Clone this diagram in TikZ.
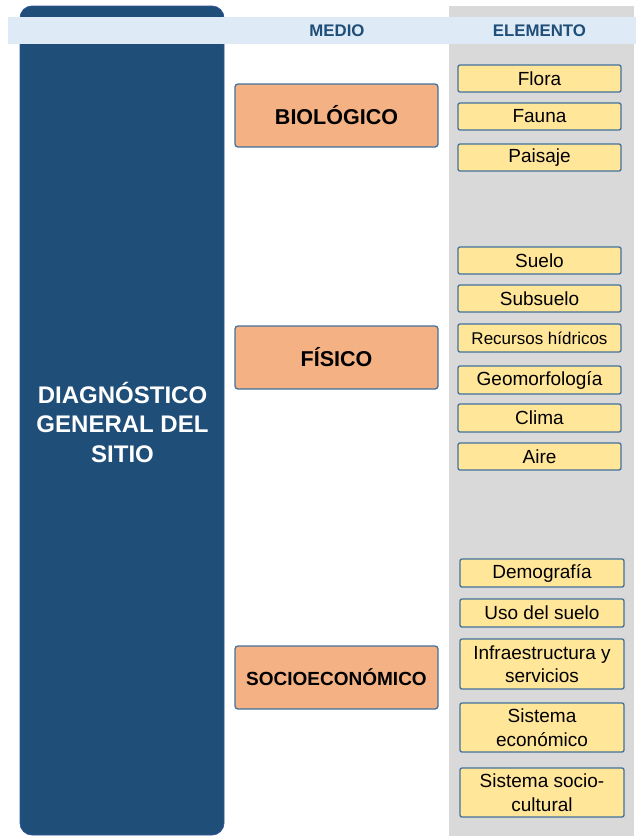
\documentclass[tikz,border=0pt]{standalone}
\usepackage{fontspec}
\setmainfont{Liberation Sans}
\definecolor{navy}{HTML}{1F4E79}
\definecolor{navyedge}{HTML}{2F5597}
\definecolor{bandblue}{HTML}{DEEBF7}
\definecolor{colgray}{HTML}{D9D9D9}
\definecolor{medfill}{HTML}{F4B183}
\definecolor{elemfill}{HTML}{FFE699}
\definecolor{boxedge}{HTML}{41719C}
\tikzset{
  medbox/.style={draw=boxedge, line width=1.3pt, fill=medfill, rounded corners=3pt,
    minimum width=203pt, minimum height=63pt, inner sep=0pt,
    font=\fontsize{21.5}{25}\selectfont\bfseries},
  elembox/.style={draw=boxedge, line width=1.3pt, fill=elemfill, rounded corners=2pt,
    minimum width=163pt, minimum height=27pt, inner sep=0pt, align=center,
    font=\fontsize{19}{23.5}\selectfont},
  headtext/.style={text=navy, font=\fontsize{16.8}{20}\selectfont\bfseries, inner sep=0pt}
}
\begin{document}
\begin{tikzpicture}[x=1pt, y=-1pt]
  \useasboundingbox (0,0) rectangle (636,836);
  % background panels
  \draw[fill=navy, draw=navyedge, line width=0.8pt, rounded corners=12pt] (20,6) rectangle (224,835);
  \fill[colgray] (449,6) rectangle (634,836);
  \fill[bandblue] (8,17) rectangle (636,44);
  % column headers
  \node[headtext] (hmedio) at (337,31) {MEDIO};
  \node[headtext] (helem) at (539.5,31) {ELEMENTO};
  % main title
  \node[text=white, align=center, inner sep=0pt,
        font=\fontsize{24}{29.5}\selectfont\bfseries] (diag) at (122.5,422)
        {DIAGNÓSTICO\\GENERAL DEL\\SITIO};
  % media
  \node[medbox] (bio) at (336.5,115.5) {BIOLÓGICO};
  \node[medbox] (fis) at (336.5,357.5) {FÍSICO};
  \node[medbox, font=\fontsize{19}{23}\selectfont\bfseries] (soc) at (336.5,677.5) {SOCIOECONÓMICO};
  % biological elements
  \node[elembox] (flora) at (539.5,78.5) {Flora};
  \node[elembox] (fauna) at (539.5,116.5) {Fauna};
  \node[elembox] (paisaje) at (539.5,157.5) {Paisaje};
  % physical elements
  \node[elembox] (suelo) at (539.5,260.5) {Suelo};
  \node[elembox] (subsuelo) at (539.5,298.5) {Subsuelo};
  \node[elembox, minimum height=28pt, font=\fontsize{17}{20}\selectfont] (hidricos) at (539.5,338) {Recursos hídricos};
  \node[elembox, minimum height=28pt] (geomorf) at (539.5,380) {Geomorfología};
  \node[elembox, minimum height=28pt] (clima) at (539.5,418) {Clima};
  \node[elembox] (aire) at (539.5,456.5) {Aire};
  % socioeconomic elements
  \node[elembox, minimum width=164pt, minimum height=28pt] (demog) at (542,573) {Demografía};
  \node[elembox, minimum width=164pt, minimum height=28pt] (usosuelo) at (542,613) {Uso del suelo};
  \node[elembox, minimum width=164pt, minimum height=50pt] (infra) at (542,664) {Infraestructura y\\servicios};
  \node[elembox, minimum width=164pt, minimum height=49pt] (sisecon) at (542,727.5) {Sistema\\económico};
  \node[elembox, minimum width=164pt, minimum height=49pt] (sissoc) at (542,792.5) {Sistema socio-\\cultural};
\end{tikzpicture}
\end{document}
